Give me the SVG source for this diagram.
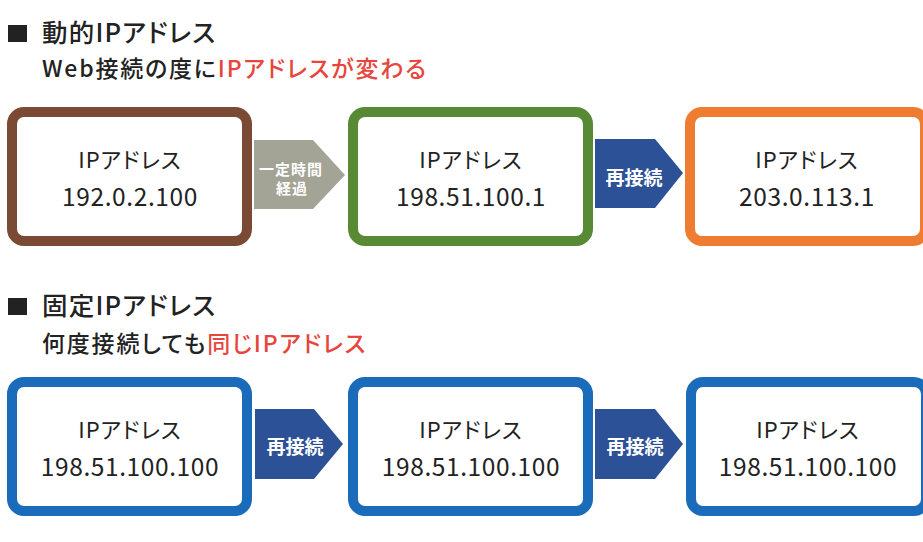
<svg xmlns="http://www.w3.org/2000/svg" width="923" height="542" viewBox="0 0 923 542">
<style>
text{font-family:"Noto Sans CJK JP","Noto Sans",sans-serif;font-feature-settings:"palt";}
.box{fill:#fff;stroke-width:10}
.lbl{font-size:22px;fill:#222;text-anchor:middle;letter-spacing:1px;font-weight:400}
.num{font-size:24.5px;fill:#222;text-anchor:middle;letter-spacing:0.6px;font-weight:400}
.h1{font-size:25.5px;fill:#222;font-weight:500;letter-spacing:1.2px}
.h2{font-size:23px;fill:#222;font-weight:500;letter-spacing:1.8px}
.red{fill:#e8453c}
.at{font-size:19px;fill:#fff;font-weight:700;text-anchor:middle}
.at2{font-size:15px;fill:#fff;font-weight:700;text-anchor:middle;letter-spacing:1px}
</style>
<rect width="923" height="542" fill="#fff"/>
<g id="heading1">
<rect x="8" y="25" width="19" height="17" fill="#222"/>
<text class="h1" x="42" y="42">動的IPアドレス</text>
<text class="h2" x="42" y="77">Web接続の度に<tspan class="red">IPアドレスが変わる</tspan></text>
</g>
<g id="heading2">
<rect x="8" y="298" width="19" height="17" fill="#222"/>
<text class="h1" x="42" y="315">固定IPアドレス</text>
<text class="h2" x="42" y="352">何度接続しても<tspan class="red">同じIPアドレス</tspan></text>
</g>
<g id="connectors">
<polygon points="254,140 313,140 345,175 313,209 254,209" fill="#a3a396"/>
<text class="at2" x="291" y="175">一定時間</text>
<text class="at2" x="292" y="194">経過</text>
<polygon points="595,139 655,139 683,173 655,208 595,208" fill="#2c5196"/>
<text class="at" x="634" y="185">再接続</text>
<polygon points="255,409 314,409 343,444 314,479 255,479" fill="#2c5196"/>
<text class="at" x="295" y="454">再接続</text>
<polygon points="595,409 655,409 683,444 655,479 595,479" fill="#2c5196"/>
<text class="at" x="635" y="454">再接続</text>
</g>
<g id="dyn1">
<rect class="box" x="12" y="112" width="235" height="129" rx="12" stroke="#7b4a35"/>
<text class="lbl" x="130" y="168">IPアドレス</text>
<text class="num" x="130" y="206">192.0.2.100</text>
</g>
<g id="dyn2">
<rect class="box" x="353" y="112" width="235" height="129" rx="12" stroke="#588a36"/>
<text class="lbl" x="471" y="168">IPアドレス</text>
<text class="num" x="471" y="206">198.51.100.1</text>
</g>
<g id="dyn3">
<rect class="box" x="690" y="112" width="235" height="129" rx="12" stroke="#ee7d31"/>
<text class="lbl" x="807" y="168">IPアドレス</text>
<text class="num" x="807" y="206">203.0.113.1</text>
</g>
<g id="fix1">
<rect class="box" x="12" y="382" width="235" height="129" rx="12" stroke="#1a6cba"/>
<text class="lbl" x="130" y="438">IPアドレス</text>
<text class="num" x="130" y="476">198.51.100.100</text>
</g>
<g id="fix2">
<rect class="box" x="353" y="382" width="235" height="129" rx="12" stroke="#1a6cba"/>
<text class="lbl" x="471" y="438">IPアドレス</text>
<text class="num" x="471" y="476">198.51.100.100</text>
</g>
<g id="fix3">
<rect class="box" x="691" y="382" width="235" height="129" rx="12" stroke="#1a6cba"/>
<text class="lbl" x="808" y="438">IPアドレス</text>
<text class="num" x="808" y="476">198.51.100.100</text>
</g>
</svg>
